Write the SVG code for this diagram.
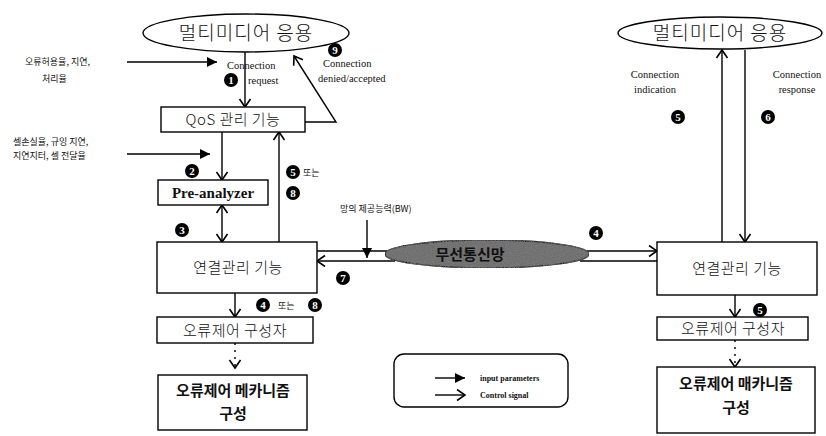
<svg xmlns="http://www.w3.org/2000/svg" width="826" height="436" viewBox="0 0 826 436">
  <style>
    .box { fill: #fff; stroke: #000; stroke-width: 1.4; }
    .ell { fill: #fff; stroke: #000; stroke-width: 1.4; }
    .ln { fill: none; stroke: #000; stroke-width: 1.4; }
    .ko { font-family: "Noto Sans CJK KR", sans-serif; fill: #111; }
    .en { font-family: "Liberation Serif", serif; fill: #111; }
    .lbl { font-size: 9px; font-weight: 400; }
    .node { font-size: 15px; font-weight: 300; text-anchor: middle; letter-spacing: 0.5px; }
    .app { font-size: 19px; font-weight: 300; text-anchor: middle; letter-spacing: 1px; }
    .mech { font-size: 15px; font-weight: 700; text-anchor: middle; }
    .sig { font-size: 10.5px; }
    .badge circle { fill: #000; }
    .badge text { font-family: "Liberation Serif", serif; font-size: 11px; font-weight: 700; fill: #fff; text-anchor: middle; }
  </style>
  <defs>
    <marker id="open" markerUnits="userSpaceOnUse" markerWidth="12" markerHeight="14" refX="9" refY="6" orient="auto">
      <path d="M1,0.5 L9,6 L1,11.5" fill="none" stroke="#000" stroke-width="1.6"/>
    </marker>
    <marker id="openStart" markerUnits="userSpaceOnUse" markerWidth="12" markerHeight="14" refX="1" refY="6" orient="auto">
      <path d="M9,0.5 L1,6 L9,11.5" fill="none" stroke="#000" stroke-width="1.6"/>
    </marker>
    <marker id="solid" markerUnits="userSpaceOnUse" markerWidth="12" markerHeight="12" refX="10" refY="5" orient="auto">
      <path d="M0,0 L10,5 L0,10 Z" fill="#000"/>
    </marker>
    <filter id="grain" x="0" y="0" width="1" height="1">
      <feTurbulence type="fractalNoise" baseFrequency="0.9" numOctaves="2" seed="4" result="n"/>
      <feColorMatrix in="n" type="matrix" values="0 0 0 0 0.15  0 0 0 0 0.15  0 0 0 0 0.15  0 0 0 2 -0.45" result="dots"/>
      <feComposite in="dots" in2="SourceGraphic" operator="in" result="clip"/>
      <feMerge><feMergeNode in="SourceGraphic"/><feMergeNode in="clip"/></feMerge>
    </filter>
  </defs>

  <!-- connectors -->
  <g id="connectors">
    <!-- left stack -->
    <line class="ln" x1="245" y1="52" x2="245" y2="107" marker-end="url(#open)"/>
    <polyline class="ln" points="305,122 336,122 294,56" marker-end="url(#open)"/>
    <line class="ln" x1="222" y1="132" x2="222" y2="180" marker-end="url(#open)"/>
    <line class="ln" x1="222" y1="205" x2="222" y2="242" marker-start="url(#openStart)" marker-end="url(#open)"/>
    <line class="ln" x1="279" y1="242" x2="279" y2="132" marker-end="url(#open)"/>
    <line class="ln" x1="235" y1="293" x2="235" y2="317" marker-end="url(#open)"/>
    <line class="ln" x1="235" y1="343" x2="235" y2="368" stroke-dasharray="2,5" marker-end="url(#open)"/>
    <!-- input parameters -->
    <line class="ln" x1="127" y1="62" x2="217" y2="62" stroke-width="1" marker-end="url(#solid)"/>
    <line class="ln" x1="127" y1="154" x2="210" y2="154" stroke-width="1" marker-end="url(#solid)"/>
    <line class="ln" x1="367" y1="220" x2="367" y2="258" stroke-width="1" marker-end="url(#solid)"/>
    <!-- network link -->
    <line class="ln" x1="317" y1="251" x2="395" y2="251"/>
    <line class="ln" x1="395" y1="261" x2="317" y2="261" marker-end="url(#open)"/>
    <line class="ln" x1="580" y1="251" x2="657" y2="251" marker-end="url(#open)"/>
    <line class="ln" x1="580" y1="261" x2="657" y2="261"/>
    <!-- right stack -->
    <line class="ln" x1="722" y1="242" x2="722" y2="50" marker-end="url(#open)"/>
    <line class="ln" x1="745" y1="50" x2="745" y2="242" marker-end="url(#open)"/>
    <line class="ln" x1="735" y1="295" x2="735" y2="317" marker-end="url(#open)"/>
    <line class="ln" x1="735" y1="340" x2="735" y2="367" stroke-dasharray="2,5" marker-end="url(#open)"/>
  </g>

  <!-- left application -->
  <g id="app-left">
    <ellipse class="ell" cx="246" cy="33" rx="103" ry="19"/>
    <text class="ko app" x="246" y="40">멀티미디어 응용</text>
  </g>
  <g id="qos">
    <rect class="box" x="161" y="107" width="144" height="25"/>
    <text class="ko node" x="233" y="125">QoS 관리 기능</text>
  </g>
  <g id="pre-analyzer">
    <rect class="box" x="158" y="180" width="110" height="25"/>
    <text class="en" x="213" y="198" font-size="15" font-weight="700" text-anchor="middle">Pre-analyzer</text>
  </g>
  <g id="conn-left">
    <rect class="box" x="157" y="242" width="160" height="51"/>
    <text class="ko node" x="238" y="273">연결관리 기능</text>
  </g>
  <g id="ec-left">
    <rect class="box" x="157" y="317" width="156" height="26"/>
    <text class="ko node" x="235" y="336">오류제어 구성자</text>
  </g>
  <g id="mech-left">
    <rect class="box" x="158" y="375" width="149" height="55" stroke-width="2"/>
    <text class="ko mech" x="233" y="396">오류제어 메카니즘</text>
    <text class="ko mech" x="233" y="419">구성</text>
  </g>

  <!-- network -->
  <g id="network">
    <ellipse cx="487" cy="254" rx="102" ry="14" fill="#7a7a7a" stroke="#000" stroke-width="1.4" filter="url(#grain)"/>
    <text class="ko" x="470" y="260" font-size="15" font-weight="700" text-anchor="middle" fill="#2a2a2a">무선통신망</text>
  </g>

  <!-- right application -->
  <g id="app-right">
    <ellipse class="ell" cx="720" cy="33" rx="102" ry="16"/>
    <text class="ko app" x="720" y="40">멀티미디어 응용</text>
  </g>
  <g id="conn-right">
    <rect class="box" x="657" y="242" width="160" height="53"/>
    <text class="ko node" x="737" y="274">연결관리 기능</text>
  </g>
  <g id="ec-right">
    <rect class="box" x="657" y="317" width="151" height="23"/>
    <text class="ko node" x="733" y="334">오류제어 구성자</text>
  </g>
  <g id="mech-right">
    <rect class="box" x="657" y="367" width="158" height="66" stroke-width="2"/>
    <text class="ko mech" x="736" y="389">오류제어 매카니즘</text>
    <text class="ko mech" x="736" y="413">구성</text>
  </g>

  <!-- legend -->
  <g id="legend">
    <rect x="394" y="354" width="174" height="53" rx="10" fill="#fff" stroke="#000" stroke-width="1.4"/>
    <line class="ln" x1="435" y1="378" x2="465" y2="378" stroke-width="1" marker-end="url(#solid)"/>
    <text class="en" x="480" y="381" font-size="8" font-weight="700">input parameters</text>
    <line class="ln" x1="435" y1="395" x2="465" y2="395" marker-end="url(#open)"/>
    <text class="en" x="480" y="398" font-size="8" font-weight="700">Control signal</text>
  </g>

  <!-- labels -->
  <g id="labels">
    <text class="ko lbl" x="25" y="65">오류허용율, 지연,</text>
    <text class="ko lbl" x="42" y="82">처리율</text>
    <text class="ko lbl" x="13" y="145">셀손실율, 규잉 지연,</text>
    <text class="ko lbl" x="13" y="159">지연지터, 셀 전달율</text>
    <text class="ko lbl" x="340" y="212">망의 제공능력(BW)</text>
    <text class="ko lbl" x="303" y="176">또는</text>
    <text class="ko lbl" x="278" y="309">또는</text>
    <text class="en sig" x="227" y="69">Connection</text>
    <text class="en sig" x="248" y="84">request</text>
    <text class="en sig" x="323" y="67">Connection</text>
    <text class="en sig" x="318" y="82">denied/accepted</text>
    <text class="en sig" x="655" y="78" text-anchor="middle">Connection</text>
    <text class="en sig" x="655" y="93" text-anchor="middle">indication</text>
    <text class="en sig" x="797" y="78" text-anchor="middle">Connection</text>
    <text class="en sig" x="797" y="93" text-anchor="middle">response</text>
  </g>

  <!-- step numbers -->
  <g id="steps" class="badge">
    <g><circle cx="231" cy="80" r="7"/><text x="231" y="84">1</text></g>
    <g><circle cx="192" cy="171" r="7"/><text x="192" y="175">2</text></g>
    <g><circle cx="182" cy="230" r="7"/><text x="182" y="234">3</text></g>
    <g><circle cx="293" cy="172" r="7"/><text x="293" y="176">5</text></g>
    <g><circle cx="293" cy="193" r="7"/><text x="293" y="197">8</text></g>
    <g><circle cx="335" cy="50" r="7"/><text x="335" y="54">9</text></g>
    <g><circle cx="343" cy="278" r="7"/><text x="343" y="282">7</text></g>
    <g><circle cx="263" cy="305" r="7"/><text x="263" y="309">4</text></g>
    <g><circle cx="315" cy="305" r="7"/><text x="315" y="309">8</text></g>
    <g><circle cx="596" cy="233" r="7"/><text x="596" y="237">4</text></g>
    <g><circle cx="678" cy="117" r="7"/><text x="678" y="121">5</text></g>
    <g><circle cx="768" cy="117" r="7"/><text x="768" y="121">6</text></g>
    <g><circle cx="760" cy="310" r="7"/><text x="760" y="314">5</text></g>
  </g>
</svg>
